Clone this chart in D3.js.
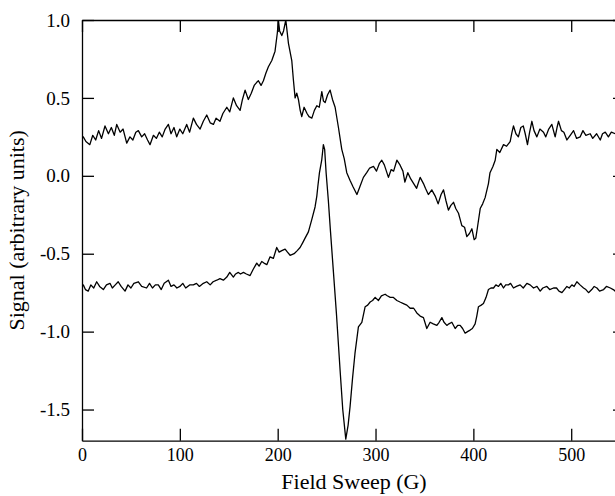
<!DOCTYPE html>
<html>
<head>
<meta charset="utf-8">
<script src="https://cdn.jsdelivr.net/npm/d3@7"></script>
<style>
  body { margin: 0; background: #fff; }
  text { font-family: "Liberation Serif", "Times New Roman", serif; fill: #000; }
</style>
</head>
<body>
<script>
// upper trace
const fieldA = [0,1.3,4,8,11,14,17,20,23.5,27,30,33,35.5,39,42,45.7,49,52,55,57.6,61,64,67,69.5,73,76,79,82,85,88.3,91,94,96.8,100,103,107,110,113.8,117,120.7,124,127.5,131,134.3,137,141,144,148,151,154.7,158,161.6,164,166.7,170,173,176,178.6,180.3,183,185.4,188,190.5,194,197.3,199.7,200.7,202,204.2,206,208.3,211,214.4,216,217.8,219.5,221.2,223,224.6,227,230,232,234.9,237.5,240,242.5,245.1,246.8,248.5,251,253.6,256,258.7,262.1,265.5,268,270.6,274,277,281,284,287.6,291,294,297.9,301,304,306.4,309,313.2,316,318.5,321.8,325,328,330,333,336,339,342,345.6,349,351,354,357.5,361,364,367,369.5,372,374.5,377,379.7,382,384.8,386.5,388.2,391,393.3,396,398.5,400.8,402.5,404.2,407,409.5,412,415.4,417,420,422.3,424,427,430.8,434,437.6,439.5,441,443.5,446,448.5,451,453,455.3,457.5,459.8,462,464.9,468,471.7,474,477,480.2,483.6,485.5,487,490,492.5,495.6,499,502.4,505.5,509.2,512,515,519.4,522,526,529.7,532,534.8,538,541,545,549,553];
const signalA = [0.24,0.25,0.22,0.20,0.26,0.23,0.29,0.24,0.32,0.27,0.31,0.26,0.33,0.28,0.30,0.21,0.25,0.23,0.28,0.29,0.25,0.27,0.23,0.20,0.26,0.24,0.28,0.25,0.30,0.33,0.27,0.31,0.25,0.30,0.27,0.33,0.28,0.37,0.33,0.30,0.35,0.39,0.34,0.33,0.37,0.35,0.40,0.44,0.41,0.50,0.45,0.42,0.49,0.55,0.49,0.53,0.58,0.60,0.61,0.58,0.61,0.66,0.70,0.74,0.80,0.92,1.0,0.93,0.90,0.93,1.0,0.85,0.74,0.62,0.50,0.53,0.49,0.42,0.38,0.44,0.40,0.38,0.37,0.42,0.45,0.44,0.54,0.48,0.47,0.52,0.55,0.49,0.44,0.31,0.17,0.11,0.02,-0.03,-0.07,-0.12,-0.07,-0.01,0.02,0.05,0.06,0.03,0.08,0.10,0.07,-0.01,0.04,0.03,0.10,0.07,0.03,-0.04,0.02,-0.02,-0.05,-0.08,-0.01,-0.05,-0.08,-0.12,-0.09,-0.13,-0.18,-0.12,-0.09,-0.16,-0.22,-0.19,-0.17,-0.21,-0.24,-0.28,-0.32,-0.33,-0.39,-0.37,-0.34,-0.41,-0.40,-0.33,-0.21,-0.18,-0.14,-0.05,0.02,0.06,0.10,0.17,0.15,0.20,0.19,0.22,0.28,0.32,0.27,0.25,0.31,0.32,0.27,0.20,0.28,0.35,0.29,0.25,0.30,0.28,0.25,0.30,0.33,0.25,0.31,0.35,0.29,0.28,0.23,0.26,0.29,0.24,0.25,0.29,0.26,0.27,0.24,0.27,0.23,0.27,0.28,0.25,0.28,0.27,0.26,0.27];

// lower trace
const fieldB = [0,1.3,3.5,6.4,9,12,15,18,21.8,25,28.6,31,34,37,40,44,47,50,53,57.6,61,66,69,72,75,78,81,84,88.3,91,94,97,100,103,106,110,113.8,117,120,124,127.5,131,134,137.7,141,144.5,148,151,154.7,157,159.8,162,165,168,171.8,175,178.6,181,183.7,186,188.9,192.2,195.6,199,201.5,204.2,207.6,210,212.7,216.8,220,222.9,225.5,228,231.4,234.9,238.2,240,241,242.7,245,246.7,248,249.5,251.8,254,257,260,263.8,266.5,269.6,272,274,276.5,279,282.5,286,289.4,292,294.5,297,299.6,303,306,309.8,312,315,318,321.8,325,328.5,332,335.4,339,342.2,345.6,349,352.4,355.8,359,362.7,365,367.8,370,372.9,375,378,381.4,384,386.5,389,391.6,394,396.7,399,401.8,403.5,405.2,408,410.3,413,415.4,418,420.6,423,425.7,428,430.8,433,435.9,438,441,444,447.8,451,454.7,458,461.5,465,468.3,471,475.1,478,481.9,485,487.5,490.5,493,495.6,498,500.7,503,505.8,509,512.6,515,517.7,521,523.5,526.3,529,533.1,536,540,543,545,549,553];
const signalB = [-0.71,-0.70,-0.73,-0.74,-0.70,-0.72,-0.68,-0.71,-0.73,-0.70,-0.69,-0.72,-0.70,-0.68,-0.71,-0.74,-0.70,-0.72,-0.69,-0.68,-0.71,-0.72,-0.69,-0.72,-0.70,-0.70,-0.73,-0.69,-0.67,-0.71,-0.70,-0.72,-0.71,-0.69,-0.72,-0.70,-0.70,-0.69,-0.71,-0.69,-0.68,-0.70,-0.68,-0.67,-0.66,-0.67,-0.65,-0.62,-0.65,-0.63,-0.62,-0.63,-0.62,-0.63,-0.64,-0.60,-0.56,-0.58,-0.55,-0.56,-0.57,-0.52,-0.53,-0.46,-0.49,-0.48,-0.47,-0.49,-0.51,-0.50,-0.48,-0.46,-0.43,-0.40,-0.36,-0.28,-0.20,-0.13,-0.07,0.02,0.10,0.20,0.17,0.02,-0.16,-0.36,-0.62,-0.88,-1.25,-1.50,-1.69,-1.60,-1.48,-1.30,-1.14,-0.97,-0.94,-0.84,-0.83,-0.81,-0.80,-0.78,-0.80,-0.77,-0.76,-0.77,-0.78,-0.78,-0.80,-0.81,-0.82,-0.83,-0.85,-0.85,-0.88,-0.90,-0.91,-0.98,-0.94,-0.95,-0.96,-0.94,-0.91,-0.94,-0.96,-0.95,-0.94,-0.98,-0.96,-0.96,-0.98,-1.01,-1.00,-0.99,-0.98,-0.95,-0.90,-0.84,-0.83,-0.82,-0.78,-0.73,-0.72,-0.72,-0.70,-0.71,-0.69,-0.72,-0.70,-0.70,-0.69,-0.72,-0.71,-0.70,-0.72,-0.69,-0.70,-0.72,-0.71,-0.74,-0.72,-0.71,-0.73,-0.72,-0.72,-0.74,-0.75,-0.73,-0.71,-0.72,-0.70,-0.71,-0.68,-0.70,-0.72,-0.73,-0.75,-0.73,-0.71,-0.72,-0.74,-0.73,-0.71,-0.72,-0.73,-0.74,-0.73,-0.72];

const xTicks = [0, 100, 200, 300, 400, 500];
const yTicks = [-1.5, -1.0, -0.5, 0.0, 0.5, 1.0];

var width = 615, height = 496;
// plot frame (right edge sits just past the picture, as in the scan)
var pLeft = 82, pRight = 626, pTop = 20, pBottom = 440.7;

var svg = d3.select('body').append('svg')
    .attr('width', width)
    .attr('height', height);

var xScale = d3.scaleLinear().domain([0, 556]).range([pLeft, pRight]);
var yScale = d3.scaleLinear().domain([-1.7, 1.0]).range([pBottom, pTop]);

// plain hyphen for negatives, like the original
var fmtY = d => d3.format('.1f')(d).replace('\u2212', '-');

// frame + inward ticks
svg.append('g')
    .attr('transform', 'translate(0,' + pBottom + ')')
    .call(d3.axisBottom(xScale).tickValues(xTicks).tickSizeInner(-12).tickSizeOuter(0).tickPadding(8)
        .tickFormat(d3.format('d')));

svg.append('g')
    .attr('transform', 'translate(0,' + pTop + ')')
    .call(d3.axisTop(xScale).tickValues(xTicks).tickSizeInner(-12).tickSizeOuter(0).tickFormat(''));

var yAxis = svg.append('g')
    .attr('transform', 'translate(' + pLeft + ',0)')
    .call(d3.axisLeft(yScale).tickValues(yTicks).tickSizeInner(-12).tickSizeOuter(0).tickPadding(12)
        .tickFormat(fmtY));

svg.append('g')
    .attr('transform', 'translate(' + pRight + ',0)')
    .call(d3.axisRight(yScale).tickValues(yTicks).tickSizeInner(-13).tickSizeOuter(0).tickFormat(''));

svg.selectAll('.domain, .tick line')
    .attr('stroke', '#000')
    .attr('stroke-width', 1.3);

svg.selectAll('.tick text')
    .style('font-size', '18px');
yAxis.selectAll('.tick text')
    .style('font-size', '19px');

svg.append('clipPath').attr('id', 'plot')
    .append('rect')
    .attr('x', pLeft).attr('y', pTop)
    .attr('width', pRight - pLeft).attr('height', pBottom - pTop);

var line = d3.line()
    .x(d => xScale(d[0]))
    .y(d => yScale(d[1]));

[[fieldA, signalA], [fieldB, signalB]].forEach(function (s) {
    svg.append('path')
        .datum(d3.zip(s[0], s[1]))
        .attr('clip-path', 'url(#plot)')
        .attr('fill', 'none')
        .attr('stroke', '#000')
        .attr('stroke-width', 1.3)
        .attr('stroke-linejoin', 'round')
        .attr('d', line);
});

// axis titles
svg.append('text')
    .attr('x', (pLeft + pRight) / 2)
    .attr('y', 489)
    .attr('text-anchor', 'middle')
    .style('font-size', '22px')
    .text('Field Sweep (G)');

svg.append('text')
    .attr('transform', 'translate(24,' + (pBottom + pTop) / 2 + ') rotate(-90)')
    .attr('text-anchor', 'middle')
    .style('font-size', '22px')
    .text('Signal (arbitrary units)');
</script>
</body>
</html>
